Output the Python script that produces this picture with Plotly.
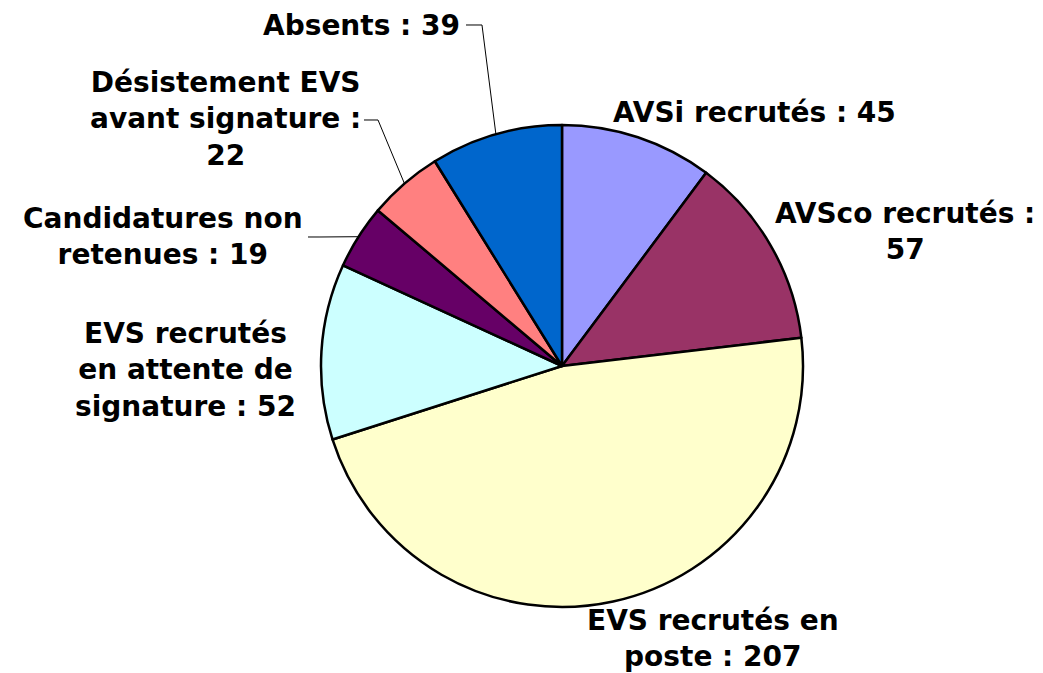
import math
import plotly.graph_objects as go

labels = ["AVSi recrutés", "AVSco recrutés", "EVS recrutés en poste",
          "EVS recrutés en attente de signature", "Candidatures non retenues",
          "Désistement EVS avant signature", "Absents"]
values = [45, 57, 207, 52, 19, 22, 39]
colors = ["#9999FF", "#993366", "#FFFFCC", "#CCFFFF", "#660066", "#FF8080", "#0066CC"]
label_texts = ["AVSi recrutés : 45", "AVSco recrutés :<br>57", "EVS recrutés en<br>poste : 207",
               "EVS recrutés<br>en attente de<br>signature : 52", "Candidatures non<br>retenues : 19",
               "Désistement EVS<br>avant signature :<br>22", "Absents : 39"]

W, H = 1043, 673
OFF = 8  # page body margin
CX, CY, R = 562, 366, 241

def px(x):
    return (x - OFF) / W

def py(y):
    return 1 - (y - OFF) / H

fig = go.Figure(go.Pie(
    labels=labels, values=values, sort=False, direction="clockwise", rotation=0,
    marker=dict(colors=colors, line=dict(color="black", width=2.5)),
    textinfo="none", hoverinfo="label+value", showlegend=False,
    domain=dict(x=[px(CX - R), px(CX + R)], y=[py(CY + R), py(CY - R)]),
))

# label positions (pixels): x, y, xanchor
pos = [(754, 112, "center"), (905, 232, "center"), (713, 638, "center"),
       (185, 370, "center"), (163, 236, "center"), (225, 119, "center"), (462, 25, "right")]
font = dict(family="DejaVu Sans, Arial, sans-serif", size=28, color="black")
for t, (x, y, xa) in zip(label_texts, pos):
    fig.add_annotation(x=px(x), y=py(y), xref="paper", yref="paper", text="<b>%s</b>" % t,
                       showarrow=False, xanchor=xa, yanchor="middle", font=font, align="center")

# leader lines to slice midpoints
total = sum(values)
cum = 0
mids = []
for v in values:
    mids.append((cum + v / 2) / total * 2 * math.pi)
    cum += v

def edge(i):
    a = mids[i]
    return CX + R * math.sin(a), CY - R * math.cos(a)

leaders = {6: [(466, 25), (482, 25)], 5: [(364, 120), (378, 120)], 4: [(308, 237), (320, 237)]}
for i, pts in leaders.items():
    ex, ey = edge(i)
    allp = pts + [(ex, ey)]
    path = "M " + " L ".join("%f,%f" % (px(x), py(y)) for x, y in allp)
    fig.add_shape(type="path", path=path, xref="paper", yref="paper",
                  line=dict(color="black", width=1))

fig.update_layout(width=W, height=H, margin=dict(l=0, r=0, t=0, b=0),
                  paper_bgcolor="white", plot_bgcolor="white")
fig.write_html("out.html")
